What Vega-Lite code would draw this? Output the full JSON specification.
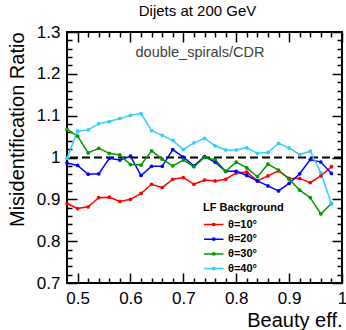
{
  "$schema": "https://vega.github.io/schema/vega-lite/v6.json",
  "width": 275,
  "height": 251,
  "autosize": {"type": "none"},
  "padding": {"left": 67, "top": 32, "right": 4, "bottom": 47},
  "background": "white",
  "config": {
    "font": "Liberation Sans",
    "view": {"stroke": "black", "strokeWidth": 2},
    "axis": {"grid": false, "domain": false, "tickColor": "black", "labelColor": "black", "titleColor": "black", "labelFlush": false, "labelOverlap": false}
  },
  "title": {"text": "Dijets at 200 GeV", "fontSize": 15, "fontWeight": "normal", "font": "Liberation Sans", "color": "black", "anchor": "middle", "offset": 4, "dx": -7},
  "datasets": {
    "series": [
    {"s": "θ=10°", "x": 0.48, "y": 0.890}, {"s": "θ=10°", "x": 0.50, "y": 0.878}, {"s": "θ=10°", "x": 0.52, "y": 0.882}, {"s": "θ=10°", "x": 0.54, "y": 0.904}, {"s": "θ=10°", "x": 0.56, "y": 0.905}, {"s": "θ=10°", "x": 0.58, "y": 0.895}, {"s": "θ=10°", "x": 0.60, "y": 0.900}, {"s": "θ=10°", "x": 0.62, "y": 0.914}, {"s": "θ=10°", "x": 0.64, "y": 0.936}, {"s": "θ=10°", "x": 0.66, "y": 0.928}, {"s": "θ=10°", "x": 0.68, "y": 0.948}, {"s": "θ=10°", "x": 0.70, "y": 0.952}, {"s": "θ=10°", "x": 0.72, "y": 0.936}, {"s": "θ=10°", "x": 0.74, "y": 0.946}, {"s": "θ=10°", "x": 0.76, "y": 0.944}, {"s": "θ=10°", "x": 0.78, "y": 0.948}, {"s": "θ=10°", "x": 0.80, "y": 0.963}, {"s": "θ=10°", "x": 0.82, "y": 0.965}, {"s": "θ=10°", "x": 0.84, "y": 0.944}, {"s": "θ=10°", "x": 0.86, "y": 0.956}, {"s": "θ=10°", "x": 0.88, "y": 0.968}, {"s": "θ=10°", "x": 0.90, "y": 0.950}, {"s": "θ=10°", "x": 0.92, "y": 0.950}, {"s": "θ=10°", "x": 0.94, "y": 0.940}, {"s": "θ=10°", "x": 0.96, "y": 0.956}, {"s": "θ=10°", "x": 0.98, "y": 0.978},
    {"s": "θ=20°", "x": 0.48, "y": 0.987}, {"s": "θ=20°", "x": 0.50, "y": 0.981}, {"s": "θ=20°", "x": 0.52, "y": 0.960}, {"s": "θ=20°", "x": 0.54, "y": 0.961}, {"s": "θ=20°", "x": 0.56, "y": 0.998}, {"s": "θ=20°", "x": 0.58, "y": 0.994}, {"s": "θ=20°", "x": 0.60, "y": 1.003}, {"s": "θ=20°", "x": 0.62, "y": 0.957}, {"s": "θ=20°", "x": 0.64, "y": 0.979}, {"s": "θ=20°", "x": 0.66, "y": 0.979}, {"s": "θ=20°", "x": 0.68, "y": 1.019}, {"s": "θ=20°", "x": 0.70, "y": 1.001}, {"s": "θ=20°", "x": 0.72, "y": 0.980}, {"s": "θ=20°", "x": 0.74, "y": 1.002}, {"s": "θ=20°", "x": 0.76, "y": 0.989}, {"s": "θ=20°", "x": 0.78, "y": 0.967}, {"s": "θ=20°", "x": 0.80, "y": 0.967}, {"s": "θ=20°", "x": 0.82, "y": 0.957}, {"s": "θ=20°", "x": 0.84, "y": 0.944}, {"s": "θ=20°", "x": 0.86, "y": 0.932}, {"s": "θ=20°", "x": 0.88, "y": 0.920}, {"s": "θ=20°", "x": 0.90, "y": 0.938}, {"s": "θ=20°", "x": 0.92, "y": 0.961}, {"s": "θ=20°", "x": 0.94, "y": 0.995}, {"s": "θ=20°", "x": 0.96, "y": 0.989}, {"s": "θ=20°", "x": 0.98, "y": 0.962},
    {"s": "θ=30°", "x": 0.48, "y": 1.067}, {"s": "θ=30°", "x": 0.50, "y": 1.051}, {"s": "θ=30°", "x": 0.52, "y": 1.011}, {"s": "θ=30°", "x": 0.54, "y": 1.022}, {"s": "θ=30°", "x": 0.56, "y": 1.010}, {"s": "θ=30°", "x": 0.58, "y": 1.006}, {"s": "θ=30°", "x": 0.60, "y": 0.983}, {"s": "θ=30°", "x": 0.62, "y": 0.982}, {"s": "θ=30°", "x": 0.64, "y": 1.016}, {"s": "θ=30°", "x": 0.66, "y": 0.996}, {"s": "θ=30°", "x": 0.68, "y": 0.980}, {"s": "θ=30°", "x": 0.70, "y": 0.994}, {"s": "θ=30°", "x": 0.72, "y": 0.978}, {"s": "θ=30°", "x": 0.74, "y": 1.000}, {"s": "θ=30°", "x": 0.76, "y": 0.995}, {"s": "θ=30°", "x": 0.78, "y": 0.967}, {"s": "θ=30°", "x": 0.80, "y": 0.989}, {"s": "θ=30°", "x": 0.82, "y": 0.975}, {"s": "θ=30°", "x": 0.84, "y": 0.954}, {"s": "θ=30°", "x": 0.86, "y": 0.984}, {"s": "θ=30°", "x": 0.88, "y": 0.970}, {"s": "θ=30°", "x": 0.90, "y": 0.948}, {"s": "θ=30°", "x": 0.92, "y": 0.922}, {"s": "θ=30°", "x": 0.94, "y": 0.904}, {"s": "θ=30°", "x": 0.96, "y": 0.865}, {"s": "θ=30°", "x": 0.98, "y": 0.890},
    {"s": "θ=40°", "x": 0.48, "y": 0.998}, {"s": "θ=40°", "x": 0.50, "y": 1.063}, {"s": "θ=40°", "x": 0.52, "y": 1.066}, {"s": "θ=40°", "x": 0.54, "y": 1.081}, {"s": "θ=40°", "x": 0.56, "y": 1.086}, {"s": "θ=40°", "x": 0.58, "y": 1.093}, {"s": "θ=40°", "x": 0.60, "y": 1.101}, {"s": "θ=40°", "x": 0.62, "y": 1.105}, {"s": "θ=40°", "x": 0.64, "y": 1.064}, {"s": "θ=40°", "x": 0.66, "y": 1.053}, {"s": "θ=40°", "x": 0.68, "y": 1.041}, {"s": "θ=40°", "x": 0.70, "y": 1.019}, {"s": "θ=40°", "x": 0.72, "y": 1.035}, {"s": "θ=40°", "x": 0.74, "y": 1.046}, {"s": "θ=40°", "x": 0.76, "y": 1.028}, {"s": "θ=40°", "x": 0.78, "y": 1.018}, {"s": "θ=40°", "x": 0.80, "y": 1.018}, {"s": "θ=40°", "x": 0.82, "y": 1.023}, {"s": "θ=40°", "x": 0.84, "y": 1.010}, {"s": "θ=40°", "x": 0.86, "y": 1.012}, {"s": "θ=40°", "x": 0.88, "y": 1.034}, {"s": "θ=40°", "x": 0.90, "y": 1.023}, {"s": "θ=40°", "x": 0.92, "y": 1.007}, {"s": "θ=40°", "x": 0.94, "y": 1.015}, {"s": "θ=40°", "x": 0.96, "y": 0.964}, {"s": "θ=40°", "x": 0.98, "y": 0.889}
    ],
    "ref": [{"y": 1}],
    "note": [{"label": "double_spirals/CDR", "x": 0.7315, "y": 1.25}]
  },
  "data": {"name": "series"},
  "resolve": {"axis": {"x": "independent", "y": "independent"}},
  "layer": [
    {
      "data": {"name": "ref"},
      "mark": {"type": "rule", "strokeDash": [8, 4], "strokeWidth": 2, "color": "black"},
      "encoding": {"y": {"field": "y", "type": "quantitative", "axis": null}}
    },
    {
      "mark": {"type": "line", "strokeWidth": 1.5, "point": {"filled": true, "size": 14}},
      "encoding": {
        "x": {"field": "x", "type": "quantitative", "scale": {"domain": [0.48, 1.0], "nice": false, "zero": false},
          "axis": {"orient": "bottom", "values": [0.5, 0.6, 0.7, 0.8, 0.9, 1], "format": "~g", "tickSize": -10, "tickWidth": 1.5, "labelPadding": 17, "labelFontSize": 17, "title": "Beauty eff.", "titleFontSize": 20, "titleFontWeight": "normal", "titleAnchor": "end", "titlePadding": 4}},
        "y": {"field": "y", "type": "quantitative", "scale": {"domain": [0.7, 1.3], "nice": false, "zero": false},
          "axis": {"orient": "left", "values": [0.7, 0.8, 0.9, 1, 1.1, 1.2, 1.3], "format": "~g", "tickSize": -10, "tickWidth": 1.5, "labelPadding": 17, "labelFontSize": 17, "title": "Misidentification Ratio", "titleFontSize": 20, "titleFontWeight": "normal", "titleAnchor": "end", "titlePadding": 9}},
        "color": {"field": "s", "type": "nominal",
          "scale": {"domain": ["θ=10°", "θ=20°", "θ=30°", "θ=40°"], "range": ["#ff0000", "#0000ff", "#009900", "#33ccff"]},
          "legend": {"orient": "none", "legendX": 136, "legendY": 170, "title": "LF Background", "titleFontSize": 11, "titleFontWeight": "bold", "titleColor": "black", "titlePadding": 4,
            "labelFontSize": 11, "labelFontWeight": "bold", "labelColor": "black", "labelOffset": 10,
            "symbolType": "M-1,0H2M0.37,-0.13H0.63V0.13H0.37Z", "symbolSize": 169, "symbolStrokeWidth": 1.5, "rowPadding": 1.7,
            "encode": {"symbols": {"update": {"fill": {"scale": "color", "field": "value"}, "stroke": {"scale": "color", "field": "value"}}}}}}
      }
    },
    {
      "mark": {"type": "point", "opacity": 0},
      "encoding": {
        "x": {"field": "x", "type": "quantitative", "axis": {"orient": "bottom", "values": [0.52, 0.54, 0.56, 0.58, 0.62, 0.64, 0.66, 0.68, 0.72, 0.74, 0.76, 0.78, 0.82, 0.84, 0.86, 0.88, 0.92, 0.94, 0.96, 0.98], "tickSize": -5, "tickWidth": 1.5, "labels": false, "title": null}},
        "y": {"field": "y", "type": "quantitative", "axis": {"orient": "left", "values": [0.72, 0.74, 0.76, 0.78, 0.82, 0.84, 0.86, 0.88, 0.92, 0.94, 0.96, 0.98, 1.02, 1.04, 1.06, 1.08, 1.12, 1.14, 1.16, 1.18, 1.22, 1.24, 1.26, 1.28], "tickSize": -5, "tickWidth": 1.5, "labels": false, "title": null}}
      }
    },
    {
      "mark": {"type": "point", "opacity": 0},
      "encoding": {
        "x": {"field": "x", "type": "quantitative", "axis": {"orient": "top", "values": [0.5, 0.6, 0.7, 0.8, 0.9, 1], "tickSize": -10, "tickWidth": 1.5, "labels": false, "title": null}},
        "y": {"field": "y", "type": "quantitative", "axis": {"orient": "right", "values": [0.7, 0.8, 0.9, 1, 1.1, 1.2, 1.3], "tickSize": -10, "tickWidth": 1.5, "labels": false, "title": null}}
      }
    },
    {
      "mark": {"type": "point", "opacity": 0},
      "encoding": {
        "x": {"field": "x", "type": "quantitative", "axis": {"orient": "top", "values": [0.52, 0.54, 0.56, 0.58, 0.62, 0.64, 0.66, 0.68, 0.72, 0.74, 0.76, 0.78, 0.82, 0.84, 0.86, 0.88, 0.92, 0.94, 0.96, 0.98], "tickSize": -5, "tickWidth": 1.5, "labels": false, "title": null}},
        "y": {"field": "y", "type": "quantitative", "axis": {"orient": "right", "values": [0.72, 0.74, 0.76, 0.78, 0.82, 0.84, 0.86, 0.88, 0.92, 0.94, 0.96, 0.98, 1.02, 1.04, 1.06, 1.08, 1.12, 1.14, 1.16, 1.18, 1.22, 1.24, 1.26, 1.28], "tickSize": -5, "tickWidth": 1.5, "labels": false, "title": null}}
      }
    },
    {
      "data": {"name": "note"},
      "mark": {"type": "text", "fontSize": 14.5, "color": "#404040", "font": "Liberation Sans"},
      "encoding": {
        "x": {"field": "x", "type": "quantitative", "axis": null},
        "y": {"field": "y", "type": "quantitative", "axis": null},
        "text": {"field": "label"}
      }
    }
  ]
}
